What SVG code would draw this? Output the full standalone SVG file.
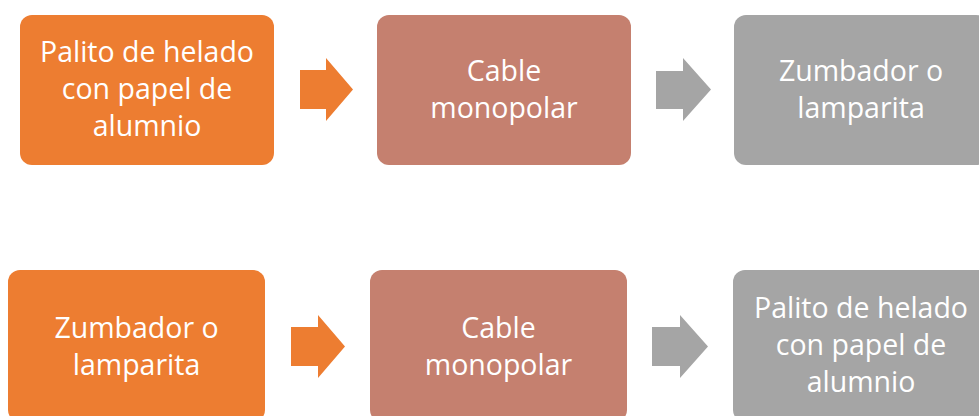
<svg xmlns="http://www.w3.org/2000/svg" width="979" height="416" viewBox="0 0 979 416">
<style>
.o{fill:#ED7D31}.b{fill:#C5806F}.g{fill:#A5A5A5}
text{font-family:"Open Sans","Liberation Sans",Arial,sans-serif;font-size:28.5px;fill:#FFFFFF;text-anchor:middle}
</style>
<rect width="979" height="416" fill="#FFFFFF"/>
<g id="n1"><rect class="o" x="20" y="15" width="254" height="150" rx="12"/>
<text x="147" y="62">Palito de helado</text><text x="147" y="99">con papel de</text><text x="147" y="136">alumnio</text></g>
<g id="n2"><rect class="b" x="377" y="15" width="254" height="150" rx="12"/>
<text x="504" y="81">Cable</text><text x="504" y="118">monopolar</text></g>
<g id="n3"><rect class="g" x="734" y="15" width="254" height="150" rx="12"/>
<text x="861" y="81">Zumbador o</text><text x="861" y="118">lamparita</text></g>
<g id="n4"><rect class="o" x="8" y="270" width="257" height="152" rx="12"/>
<text x="136.5" y="338">Zumbador o</text><text x="136.5" y="375">lamparita</text></g>
<g id="n5"><rect class="b" x="370" y="270" width="257" height="152" rx="12"/>
<text x="498.5" y="338">Cable</text><text x="498.5" y="375">monopolar</text></g>
<g id="n6"><rect class="g" x="733" y="270" width="257" height="152" rx="12"/>
<text x="861" y="318">Palito de helado</text><text x="861" y="355">con papel de</text><text x="861" y="392">alumnio</text></g>
<g id="connectors">
<polygon class="o" points="300,70 326,70 326,58 353,89.5 326,121 326,109 300,109"/>
<polygon class="g" points="656,71 683,71 683,58 711,89.5 683,121 683,109 656,109"/>
<polygon class="o" points="291,327 318,327 318,315 345,346.5 318,378 318,366 291,366"/>
<polygon class="g" points="652,327 680,327 680,315 708,346.5 680,378 680,366 652,366"/>
</g>
</svg>
